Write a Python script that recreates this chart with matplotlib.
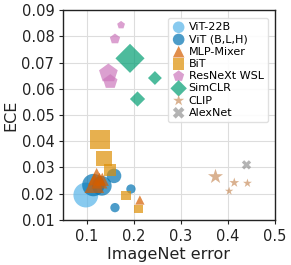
import matplotlib
matplotlib.use("Agg")
import matplotlib.pyplot as plt

families = ["ViT-22B", "ViT (B,L,H)", "MLP-Mixer", "BiT", "ResNeXt WSL", "SimCLR", "CLIP", "AlexNet"]
colors = ["#56b4e9", "#0173b2", "#d55e00", "#de8f05", "#cc78bc", "#029e73", "#ca9161", "#949494"]
markers = ["o", "o", "^", "s", "p", "D", "*", "X"]

err = {
    "ViT-22B": [0.098],
    "ViT (B,L,H)": [0.114, 0.132, 0.158, 0.194, 0.160],
    "MLP-Mixer": [0.116, 0.121, 0.127, 0.133, 0.213],
    "BiT": [0.128, 0.137, 0.150, 0.184, 0.210],
    "ResNeXt WSL": [0.173, 0.160, 0.146, 0.150],
    "SimCLR": [0.192, 0.245, 0.208],
    "CLIP": [0.374, 0.414, 0.442, 0.403],
    "AlexNet": [0.440],
}
ece = {
    "ViT-22B": [0.0195],
    "ViT (B,L,H)": [0.0233, 0.0230, 0.0268, 0.0218, 0.0147],
    "MLP-Mixer": [0.0240, 0.0265, 0.0250, 0.0255, 0.0176],
    "BiT": [0.0407, 0.0334, 0.0290, 0.0193, 0.0142],
    "ResNeXt WSL": [0.0843, 0.0790, 0.0659, 0.0627],
    "SimCLR": [0.0716, 0.0641, 0.0561],
    "CLIP": [0.0265, 0.0242, 0.0240, 0.0210],
    "AlexNet": [0.0310],
}
sizes = {
    "ViT-22B": [320],
    "ViT (B,L,H)": [260, 200, 110, 45, 45],
    "MLP-Mixer": [200, 160, 130, 90, 45],
    "BiT": [200, 130, 80, 50, 40],
    "ResNeXt WSL": [35, 60, 200, 120],
    "SimCLR": [220, 50, 60],
    "CLIP": [130, 55, 45, 40],
    "AlexNet": [45],
}

fig = plt.figure(figsize=(2.91, 2.65), dpi=100)
ax = fig.add_axes([0.2175, 0.170, 0.7265, 0.792])

for fam, c, m in zip(families, colors, markers):
    ax.scatter(err[fam], ece[fam], s=sizes[fam], c=c, marker=m, alpha=0.7,
               edgecolors="none", label=fam, zorder=3)

ax.set_xlim(0.05, 0.5)
ax.set_ylim(0.01, 0.09)
ax.set_xticks([0.1, 0.2, 0.3, 0.4, 0.5])
ax.set_xticklabels(["0.1", "0.2", "0.3", "0.4", "0.5"])
ax.set_yticks([0.01, 0.02, 0.03, 0.04, 0.05, 0.06, 0.07, 0.08, 0.09])
ax.set_yticklabels(["0.01", "0.02", "0.03", "0.04", "0.05", "0.06", "0.07", "0.08", "0.09"])
ax.tick_params(labelsize=10.5, length=3, width=0.8, colors="#222222")
ax.grid(True, color="#dddddd", linewidth=0.8, zorder=0)
ax.set_axisbelow(True)
for sp in ax.spines.values():
    sp.set_color("#222222")
    sp.set_linewidth(1.0)
ax.set_xlabel("ImageNet error", fontsize=11.5, color="#222222", labelpad=2)
ax.set_ylabel("ECE", fontsize=11.5, color="#222222", labelpad=2)

leg = ax.legend(loc="upper right", fontsize=8, markerscale=1, handletextpad=0.3,
                borderpad=0.4, labelspacing=0.2, handlelength=1.2, framealpha=0.9,
                edgecolor="#dddddd", bbox_to_anchor=(0.995, 0.99))
for h in leg.legend_handles:
    h.set_sizes([70])

fig.savefig("out.png", dpi=100)
